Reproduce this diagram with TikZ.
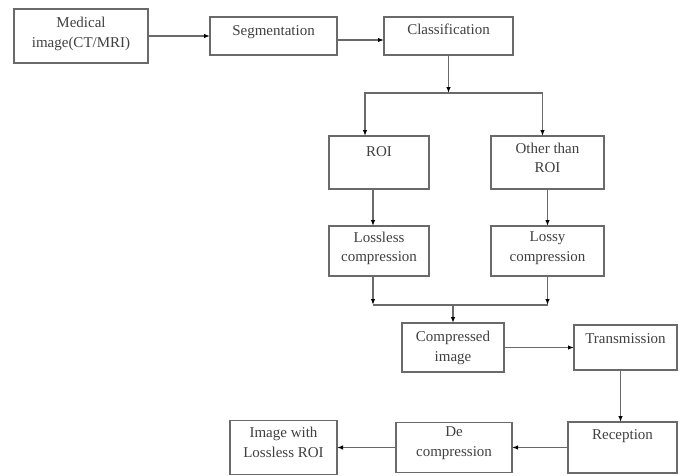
\documentclass[tikz,border=0pt]{standalone}
\usepackage{fontspec}
\setmainfont{Liberation Serif}
\usetikzlibrary{arrows.meta,positioning}
\definecolor{boxline}{HTML}{6A6A6A}
\definecolor{boxtext}{HTML}{404040}

\begin{document}
\begin{tikzpicture}[
    x=1pt, y=-1pt,
    every node/.style={draw=boxline, line width=1.2pt, inner sep=2pt, outer sep=0pt, align=center, text=boxtext, font=\fontsize{15}{19.5}\selectfont},
    blk/.style 2 args={minimum width=#1pt, minimum height=#2pt},
    lift/.style={text depth=#1pt},
    link/.style={draw=boxline, line width=1.2pt},
    arr/.style={link, -{Latex[length=6pt,width=4.5pt,color=black]}}
  ]
    \useasboundingbox (0,0) rectangle (684,475);

    % Acquisition row
    \node[blk={134}{54}, lift=7.5] (med) at (81,36) {Medical\\image(CT/MRI)};
    \node[blk={127}{38}, lift=11.5, right=62pt of med] (seg) {Segmentation};
    \node[blk={129}{38}, lift=13.5, right=47pt of seg] (cls) {Classification};

    % Region split
    \node[blk={100}{53}, lift=21.5] (roi) at (379,162.5) {ROI};
    \node[blk={113}{53}, lift=9.5, right=62pt of roi] (oth) {Other than\\ROI};
    \node[blk={100}{50}, lift=8.5, below=37pt of roi] (lsl) {Lossless\\compression};
    \node[blk={113}{50}, lift=8.5, below=37pt of oth] (lsy) {Lossy\\compression};

    % Transfer and decoding
    \node[blk={102}{49}, lift=2] (cmp) at (453,347.5) {Compressed\\image};
    \node[blk={103}{45}, lift=18.5, right=70pt of cmp] (trn) {Transmission};
    \node[blk={109}{51}, lift=26.5] (rcp) at (622.5,447.5) {Reception};
    \node[blk={116}{50}, lift=11.5, left=56pt of rcp] (dec) {De\\compression};
    \node[blk={107}{54}, lift=10.5, left=59pt of dec] (out) {Image with\\Lossless ROI};

    \coordinate (split) at (cls.south |- 0,93);
    \coordinate (merge) at (cmp.north |- 0,305);

    % Edges
    \draw[arr] (med) -- (seg);
    \draw[arr] ([yshift=-4pt]seg.east) -- ([yshift=-4pt]cls.west);
    \draw[arr] (cls.south) -- (split);
    \draw[arr] (split) -| ([xshift=-14pt]roi.north);
    \draw[arr] (split) -| ([xshift=-5pt]oth.north);
    \draw[arr] ([xshift=-6pt]roi.south) -- ([xshift=-6pt]lsl.north);
    \draw[arr] (oth) -- (lsy);
    \draw[arr] ([xshift=-6pt]lsl.south) -- ([xshift=-6pt]lsl.south |- merge);
    \draw[arr] (lsy.south) -- (lsy.south |- merge);
    \draw[link] ([xshift=-6pt]lsl.south |- merge) -- (lsy.south |- merge);
    \draw[arr] (merge) -- (cmp.north);
    \draw[arr] (cmp.east |- trn.west) -- (trn.west);
    \draw[arr] ([xshift=-5pt]trn.south) -- ([xshift=-5pt]trn.south |- rcp.north);
    \draw[arr] (rcp.west) -- (rcp.west -| dec.east);
    \draw[arr] (dec.west) -- (dec.west -| out.east);
  \end{tikzpicture}
\end{document}
